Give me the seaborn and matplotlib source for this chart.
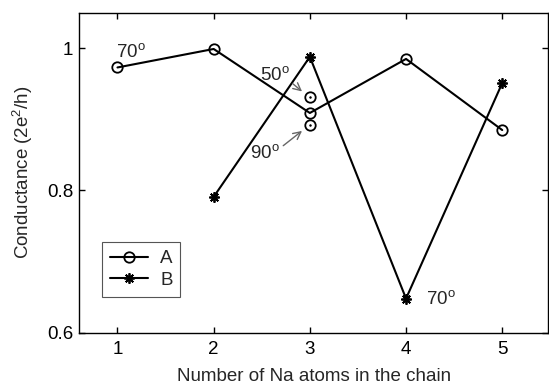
import matplotlib
matplotlib.use("Agg")
import matplotlib.pyplot as plt
import seaborn as sns

# dane
liczba_atomow_a = [1, 2, 3, 4, 5]
przewodnosc_a = [0.973, 0.999, 0.909, 0.985, 0.885]
liczba_atomow_b = [2, 3, 4, 5]
przewodnosc_b = [0.791, 0.988, 0.648, 0.951]
# dodatkowe geometrie A dla 3 atomow (50 i 90 stopni)
liczba_atomow_extra = [3, 3]
przewodnosc_extra = [0.931, 0.892]

x_ticks = [1, 2, 3, 4, 5]
y_ticks = [0.6, 0.8, 1.0]
y_tick_labels = ["0.6", "0.8", "1"]

FS = 13.5


def main():
    sns.set_style("ticks")
    plt.rcParams['font.family'] = ['Liberation Sans', 'DejaVu Sans']
    plt.rcParams['mathtext.fontset'] = 'custom'
    plt.rcParams['mathtext.rm'] = 'Liberation Sans'
    plt.rcParams['mathtext.it'] = 'Liberation Sans:italic'
    plt.rcParams['font.size'] = FS

    fig = plt.figure(figsize=(5.49, 3.84), dpi=100)
    ax = fig.add_axes([0.1439, 0.1336, 0.855, 0.8333])

    sns.lineplot(x=liczba_atomow_a, y=przewodnosc_a, marker='o', color='black',
                 markerfacecolor='none', markeredgecolor='black', markersize=7.5,
                 markeredgewidth=1.3, linewidth=1.5, label='A', ax=ax)
    sns.lineplot(x=liczba_atomow_b, y=przewodnosc_b, marker=(8, 2, 0), color='black',
                 markerfacecolor='black', markeredgecolor='black', markersize=7.5,
                 markeredgewidth=1.3, linewidth=1.5, label='B', ax=ax)
    sns.lineplot(x=liczba_atomow_extra, y=przewodnosc_extra, estimator=None, sort=False,
                 linestyle='none', marker='o', markerfacecolor='none',
                 markeredgecolor='black', markersize=7.5, markeredgewidth=1.3,
                 legend=False, ax=ax)
    sns.lineplot(x=liczba_atomow_extra, y=przewodnosc_extra, estimator=None, sort=False,
                 linestyle='none', marker='.', color='black', markeredgecolor='black',
                 markersize=2, legend=False, ax=ax)

    ax.text(0.98, 0.988, "70$^{\\rm o}$", fontsize=FS)
    ax.text(4.21, 0.640, "70$^{\\rm o}$", fontsize=FS)
    ax.annotate("50$^{\\rm o}$", xy=(2.93, 0.938), xytext=(2.48, 0.955), fontsize=FS,
                arrowprops=dict(arrowstyle='->', color='#666666', lw=1.0,
                                relpos=(0.95, 0.25), shrinkA=0, shrinkB=1))
    ax.annotate("90$^{\\rm o}$", xy=(2.93, 0.885), xytext=(2.38, 0.846), fontsize=FS,
                arrowprops=dict(arrowstyle='->', color='#666666', lw=1.0,
                                relpos=(1.0, 0.75), shrinkA=0, shrinkB=1))

    ax.set_xlim(0.6, 5.48)
    ax.set_ylim(0.6, 1.05)
    ax.set_xticks(x_ticks)
    ax.set_yticks(y_ticks)
    ax.set_yticklabels(y_tick_labels)
    ax.tick_params(direction='in', length=4, width=1, top=True, right=True,
                   labelsize=FS, colors='black')
    ax.tick_params(axis='x', pad=6)
    ax.tick_params(axis='y', pad=4)
    for spine in ax.spines.values():
        spine.set_visible(True)
        spine.set_linewidth(1.0)
        spine.set_color('black')

    ax.set_xlabel("Number of Na atoms in the chain", fontsize=FS)
    ax.set_ylabel("Conductance (2e$^2$/h)", fontsize=FS)
    ax.xaxis.set_label_coords(0.5, -0.11)
    ax.yaxis.set_label_coords(-0.094, 0.5)

    leg = ax.legend(loc='lower left', bbox_to_anchor=(0.05, 0.112), fancybox=False,
                    edgecolor='#555555', framealpha=1, handlelength=2.0,
                    handletextpad=0.65, labelspacing=0.25, borderpad=0.42,
                    borderaxespad=0, fontsize=FS)
    leg.get_frame().set_linewidth(0.8)

    plt.savefig("out.png", dpi=100)


if __name__ == "__main__":
    main()
